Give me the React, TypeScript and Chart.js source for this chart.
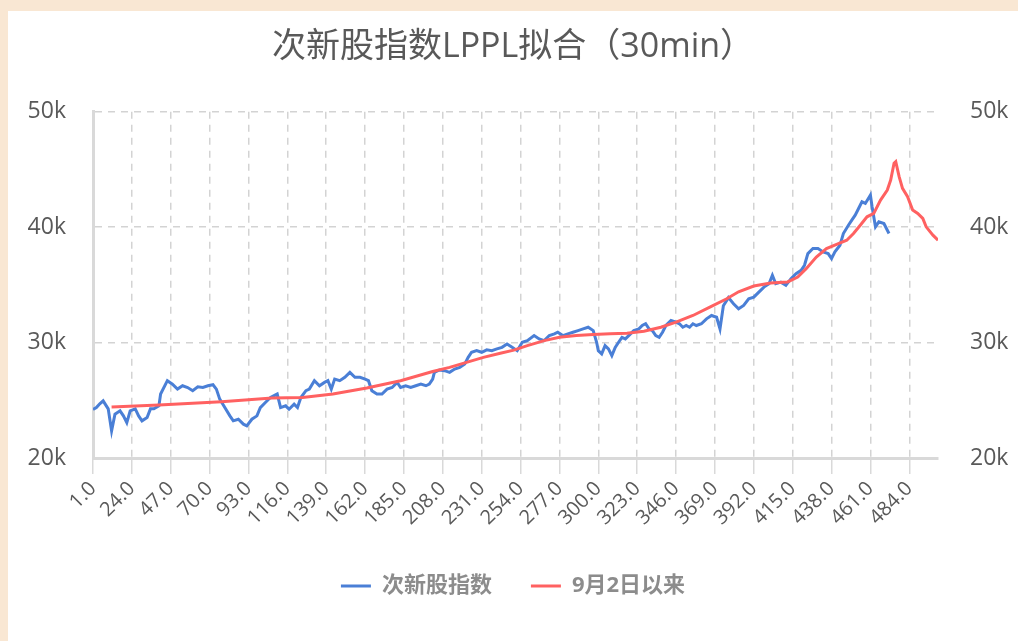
import { useEffect, useRef } from "react";
import { Chart, registerables } from "chart.js";

Chart.register(...registerables);

const titleText = "次新股指数LPPL拟合（30min）";
const seriesNames = ["次新股指数", "9月2日以来"];
const xTickValues = [1, 24, 47, 70, 93, 116, 139, 162, 185, 208, 231, 254, 277, 300, 323, 346, 369, 392, 415, 438, 461, 484];
const yMin = 20000;
const yMax = 50000;
const yStep = 10000;

const blueIdx = [
  1, 3, 5, 7, 10, 12, 14, 17, 19, 21, 23, 26, 28, 30, 33, 35, 37, 40, 41, 45, 48, 51, 54, 57, 60, 63, 66, 69, 72, 74, 76, 79,
  82, 84, 87, 90, 92, 95, 98, 100, 103, 106, 110, 112, 115, 117, 120, 122, 124, 127, 129, 132, 135, 138, 140, 142, 144, 147,
  150, 153, 156, 159, 162, 164, 166, 169, 172, 175, 178, 181, 183, 186, 189, 192, 195, 198, 200, 202, 203, 206, 209, 212,
  215, 218, 221, 223, 225, 228, 231, 234, 237, 240, 243, 246, 249, 252, 255, 258, 262, 265, 268, 271, 274, 276, 279, 282,
  285, 288, 291, 294, 297, 299, 300, 302, 304, 306, 308, 310, 312, 314, 316, 318, 321, 324, 326, 328, 330, 332, 334, 336,
  338, 340, 343, 346, 348, 350, 352, 354, 356, 358, 361, 364, 367, 370, 372, 374, 377, 380, 383, 386, 389, 392, 395, 398,
  401, 403, 405, 408, 411, 414, 417, 420, 422, 424, 427, 430, 433, 436, 438, 440, 443, 445, 448, 450, 452, 454, 456, 458,
  461, 462, 464, 466, 469, 472,
];
const blueVal = [
  24200, 24370, 24700, 24950, 24260, 22350, 23800, 24090, 23650, 23070, 24090, 24260, 23650, 23220, 23500, 24260, 24260,
  24520, 25540, 26700, 26400, 25970, 26260, 26110, 25830, 26170, 26110, 26260, 26350, 25970, 25100, 24370, 23650, 23220,
  23360, 22930, 22780, 23360, 23650, 24370, 24810, 25240, 25540, 24370, 24520, 24230, 24670, 24370, 25240, 25830, 25970,
  26700, 26260, 26550, 26700, 25970, 26840, 26700, 26990, 27420, 26990, 26990, 26840, 26700, 25830, 25540, 25540, 25970,
  26110, 26550, 26110, 26260, 26110, 26260, 26400, 26260, 26400, 26840, 27420, 27630, 27570, 27420, 27710, 27850, 28150,
  28720, 29160, 29300, 29160, 29370, 29300, 29450, 29590, 29880, 29590, 29300, 30030, 30170, 30610, 30320, 30170, 30610,
  30760, 30900, 30610, 30760, 30900, 31040, 31190, 31330, 31040, 30030, 29300, 29020, 29740, 29450, 28870, 29590, 30030,
  30460, 30320, 30610, 31040, 31190, 31480, 31630, 31190, 31040, 30610, 30460, 30900, 31480, 31910, 31770, 31630, 31330,
  31480, 31330, 31630, 31480, 31630, 32060, 32350, 32200, 31190, 33200, 33900, 33370, 32930, 33220, 33800, 33940, 34370,
  34810, 35100, 35830, 35100, 35240, 34960, 35540, 35970, 36260, 36700, 37710, 38150, 38150, 37860, 37710, 37280, 37860,
  38440, 39450, 40170, 40610, 41040, 41620, 42200, 42060, 42780, 41770, 40030, 40460, 40320, 39450,
];

const redIdx = [
  12, 40, 77, 107, 125, 143, 163, 183, 202, 212, 222, 232, 242, 250, 258, 268, 277, 287, 297, 307, 317, 327, 337, 346, 356,
  366, 376, 383, 392, 402, 412, 418, 423, 429, 435, 441, 447, 451, 455, 459, 463, 467, 471, 473, 475, 476, 478, 480, 483,
  486, 489, 492, 494, 498, 501,
];
const redVal = [
  24430, 24600, 24880, 25190, 25250, 25540, 26060, 26700, 27500, 27850, 28290, 28720, 29070, 29350, 29740, 30170, 30460,
  30610, 30700, 30760, 30810, 30990, 31330, 31770, 32350, 33070, 33800, 34400, 34900, 35160, 35260, 35680, 36410, 37420,
  38150, 38520, 38870, 39450, 40170, 40900, 41190, 42350, 43220, 44090, 45540, 45680, 44380, 43370, 42640, 41480, 41190,
  40760, 40030, 39310, 38870,
];

const FONT = "'Open Sans', 'Noto Sans CJK SC', sans-serif";
const TEXT = "#595959";
const GRID = "#d3d3d3";
const AXIS = "#d9d9d9";

export default function App() {
  const ref = useRef<HTMLCanvasElement>(null);

  useEffect(() => {
    if (!ref.current) return;
    const chart = new Chart(ref.current, {
      type: "line",
      data: {
        datasets: [
          {
            label: seriesNames[0],
            data: blueIdx.map((x, i) => ({ x, y: blueVal[i] })),
            borderColor: "#4a7fd6",
            backgroundColor: "#4a7fd6",
            borderWidth: 3,
            pointRadius: 0,
            tension: 0,
            order: 1,
            yAxisID: "y",
          },
          {
            label: seriesNames[1],
            data: redIdx.map((x, i) => ({ x, y: redVal[i] })),
            borderColor: "#ff6161",
            backgroundColor: "#ff6161",
            borderWidth: 3,
            pointRadius: 0,
            tension: 0,
            order: 0,
            yAxisID: "y",
          },
        ],
      },
      options: {
        animation: false,
        responsive: false,
        maintainAspectRatio: false,
        layout: { padding: { left: 0, right: 0, top: 0, bottom: 34 } },
        plugins: {
          title: {
            display: true,
            text: titleText,
            color: TEXT,
            font: { family: FONT, size: 34, weight: "normal" },
            padding: { top: 16, bottom: 44 },
          },
          legend: {
            position: "bottom",
            maxHeight: 80,
            labels: {
              usePointStyle: true,
              pointStyle: "line",
              pointStyleWidth: 30,
              boxHeight: 22,
              color: "#8c8c8c",
              font: { family: FONT, size: 22, weight: "bold" },
              padding: 39,
              sort: (a: any, b: any) => a.datasetIndex - b.datasetIndex,
            },
          },
          tooltip: { enabled: false },
        },
        scales: {
          x: {
            type: "linear",
            min: 1,
            max: 501,
            afterBuildTicks: (scale: any) => {
              scale.ticks = xTickValues.map((v) => ({ value: v }));
            },
            afterFit: (scale: any) => {
              scale.height = 78;
            },
            ticks: {
              autoSkip: false,
              minRotation: 45,
              maxRotation: 45,
              color: TEXT,
              padding: 3,
              font: { family: FONT, size: 20 },
              callback: (v: any) => Number(v).toFixed(1),
            },
            grid: {
              color: GRID,
              lineWidth: 1.5,
              drawTicks: true,
              tickLength: 16,
              tickColor: AXIS,
              tickWidth: 1.5,
              tickBorderDash: [],
            },
            border: { display: true, color: AXIS, width: 3, dash: [7, 6] },
          },
          y: {
            type: "linear",
            position: "left",
            min: yMin,
            max: yMax,
            afterFit: (scale: any) => {
              scale.width = 85;
            },
            ticks: {
              stepSize: yStep,
              color: TEXT,
              padding: 27,
              font: { family: FONT, size: 23 },
              callback: (v: any) => Number(v) / 1000 + "k",
            },
            grid: { color: GRID, lineWidth: 1.5, drawTicks: false },
            border: { display: true, color: AXIS, width: 3, dash: [7, 6] },
          },
          y1: {
            type: "linear",
            position: "right",
            min: yMin,
            max: yMax,
            afterFit: (scale: any) => {
              scale.width = 80;
            },
            ticks: {
              stepSize: yStep,
              color: TEXT,
              padding: 32,
              font: { family: FONT, size: 23 },
              callback: (v: any) => Number(v) / 1000 + "k",
            },
            grid: { display: false, drawTicks: false },
            border: { display: false },
          },
        },
      },
    });
    return () => chart.destroy();
  }, []);

  return (
    <div style={{ position: "fixed", left: 0, top: 0, width: 1018, height: 641, background: "#f9e7d3" }}>
      <div style={{ position: "absolute", left: 8, top: 11, width: 1010, height: 630, background: "#ffffff" }}>
        <canvas ref={ref} width={1010} height={630} style={{ display: "block", width: 1010, height: 630 }} />
      </div>
    </div>
  );
}
